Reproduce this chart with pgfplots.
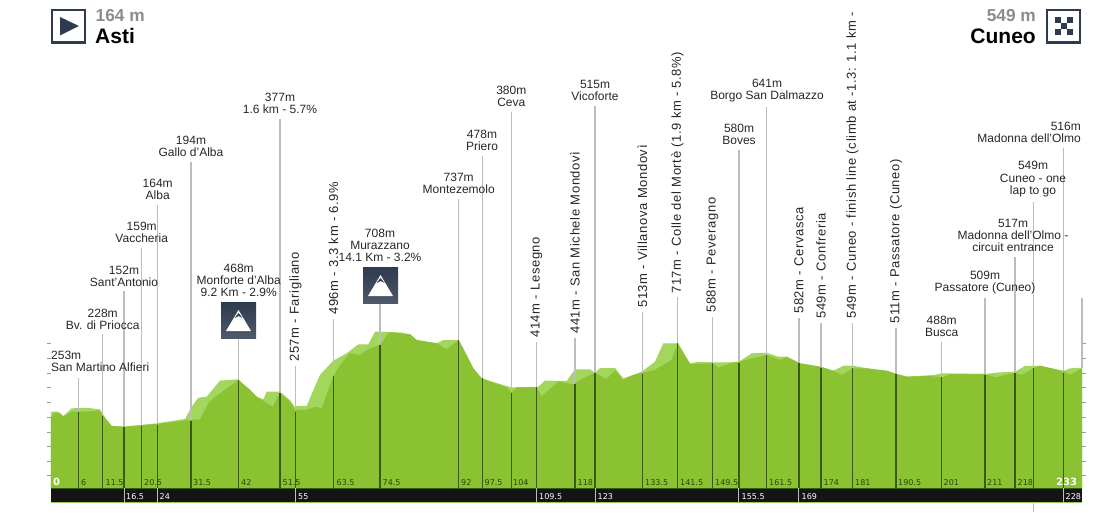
\documentclass[border=0pt]{standalone}
\usepackage{pgfplots}
\pgfplotsset{compat=1.18}
\usepackage{pgfplotstable}
\usepackage{fontspec}
\setmainfont{Liberation Sans}
\newfontfamily\kmfont{DejaVu Sans}
\newfontfamily\rotfont[LetterSpace=4.8]{Liberation Sans}
\definecolor{lgreen}{HTML}{A3D65C}
\definecolor{dgreen}{HTML}{8BC232}
\definecolor{stemgray}{HTML}{BDBDBD}
\definecolor{stemdark}{HTML}{3A5A14}
\definecolor{kmgreen}{HTML}{234A06}
\definecolor{navy}{HTML}{2E3B4E}
\definecolor{labtext}{HTML}{262626}
\pgfplotstableread{
km m
0 254
1.66 254
2.79 225
4.67 277
8.06 281
11.07 270
11.83 232
13.71 157
16.5 153
23.88 175
30.28 205
31.79 288
33.3 349
35.18 356
38.19 465
42.33 474
44.22 419
46.48 356
47.99 338
48.74 390
51.75 390
54.0 333
55.14 284
55.5 293
57.78 293
59.29 401
60.79 503
63.8 600
66.82 650
69.46 711
71.71 711
73.22 797
78.87 792
81.13 779
82.64 740
87.16 718
88.66 740
92.13 740
93.18 684
95.44 548
97.33 480
102.98 428
104.1 419
110.13 424
111.64 465
116.53 462
118.42 541
121.81 541
122.94 519
124.07 550
127.46 550
129.34 480
133.48 525
136.5 593
138.38 718
141.77 718
144.41 582
146.29 593
149.53 589
153.45 589
155.48 593
158.35 650
161.74 654
164.37 627
166.25 627
169.27 582
173.94 559
176.8 532
179.06 566
181.32 566
183.58 553
188.85 532
191.11 510
193.37 492
199.4 503
201.28 514
211.08 510
214.47 521
217.86 525
220.12 564
223.51 566
228.78 530
230.29 548
233 553
}\lightprofile
\pgfplotstableread{
km m
0 216
0.9 248
2.03 243
2.79 220
4.67 254
8.06 254
11.07 261
11.83 225
13.71 157
16.5 153
23.88 171
31.4 198
33.67 202
35.56 311
36.69 345
42.33 469
44.6 413
46.48 356
50.1 288
51.75 379
54.0 322
55.14 266
57.78 266
59.66 288
61.17 277
63.8 496
65.31 571
67.57 650
69.83 639
72.09 684
74.35 706
76.23 785
76.76 792
78.87 785
81.13 779
82.64 740
87.16 718
89.42 677
92.13 740
95.44 548
97.33 480
102.98 419
104.1 383
105.23 419
109.75 419
110.88 356
113.14 419
114.65 458
118.04 440
120.3 480
122.94 519
125.57 474
127.46 537
129.34 469
131.6 503
136.5 537
140.26 605
141.62 713
144.41 578
149.53 582
150.81 553
153.45 582
155.48 593
161.74 639
164.75 605
166.25 627
169.27 582
173.94 559
176.8 532
178.69 503
181.32 548
183.58 548
188.85 532
191.11 510
193.37 492
198.65 496
201.65 487
203.17 510
211.08 510
213.34 487
217.86 519
219.37 503
222 548
223.51 566
228.78 530
230.29 503
233 548
}\darkprofile
\newcommand{\AllStakes}[1]{%
#1{6.17}{485}{254}#1{11.68}{781}{225}#1{16.5}{1072}{153}#1{20.49}{1364}{157}%
#1{24.1}{1656}{164}#1{31.64}{1947}{193}#1{42.41}{761}{469}#1{51.75}{2239}{379}%
#1{55.29}{564}{254}#1{63.88}{883}{496}#1{74.35}{998}{706}#1{92.13}{1696}{740}%
#1{97.47}{1988}{480}#1{104.03}{2286}{383}#1{109.75}{727}{419}#1{118.42}{754}{440}%
#1{122.94}{2327}{519}#1{133.71}{930}{510}#1{141.62}{1032}{718}#1{149.53}{896}{582}%
#1{155.48}{2028}{582}#1{161.74}{2320}{639}#1{169.04}{889}{582}#1{174.01}{856}{548}%
#1{181.17}{856}{548}#1{190.96}{822}{510}#1{201.28}{727}{487}#1{211.08}{1025}{503}%
#1{217.86}{1303}{519}#1{222}{1676}{548}#1{228.78}{2042}{519}}
\newcommand{\grayS}[3]{\addplot[stemgray,line width=1.3pt] coordinates {(#1,#2)(#1,-263)};}
\newcommand{\darkS}[3]{\addplot[stemdark,line width=1.2pt] coordinates {(#1,#3)(#1,-263)};}
\newcommand{\barS}[1]{\addplot[stemgray,line width=1pt] coordinates {(#1,-263)(#1,-358)};}
% pixel helpers
\newcommand{\pxy}[2]{({(#1)*1pt},{512pt-(#2)*1pt})}
\newcommand{\lab}[3]{\node[anchor=south,align=center,inner sep=0pt,text=labtext,font=\fontsize{12}{12.3}\selectfont] at \pxy{#1}{#2-1} {#3};}
\newcommand{\rot}[3]{\node[anchor=west,rotate=90,inner sep=0pt,text=labtext,font=\rotfont\fontsize{13}{13}\selectfont] at \pxy{#1}{#2} {#3};}
\newcommand{\kmup}[2]{\node[anchor=west,inner sep=0pt,font=\kmfont\fontsize{8}{8}\selectfont,text=kmgreen] at \pxy{#1}{483} {#2};}
\newcommand{\kmlo}[2]{\node[anchor=west,inner sep=0pt,font=\kmfont\fontsize{8}{8}\selectfont,text=white] at \pxy{#1}{497} {#2};}
\newcommand{\mountain}[2]{%
\shade[top color=navy,bottom color=navy!85!white] \pxy{#1}{#2} rectangle \pxy{#1+35}{#2+36};
\fill[white] \pxy{#1+5}{#2+29} -- \pxy{#1+17.5}{#2+8} -- \pxy{#1+30}{#2+29} -- cycle;
\fill[navy] \pxy{#1+13.5}{#2+16} -- \pxy{#1+17.5}{#2+11} -- \pxy{#1+21.5}{#2+16} -- \pxy{#1+17.5}{#2+14} -- cycle;}
\begin{document}
\begin{tikzpicture}[x=1pt,y=1pt]
\useasboundingbox (0,0) rectangle (1107pt,512pt);
\begin{axis}[at={(0pt,0pt)},anchor=south west,scale only axis,width=1107pt,height=512pt,
  xmin=-11.525,xmax=238.65,ymin=-425.86,ymax=3045.5,hide axis,clip=true]
% elevation ticks at both sides
\pgfplotsinvokeforeach{718,618,518,418,318,218,118,18,-82,-180}{
  \addplot[gray!80,line width=.5pt] coordinates {(-0.8,#1)(0,#1)};
  \addplot[gray!80,line width=.5pt] coordinates {(233,#1)(233.8,#1)};
}
\addplot[fill=lgreen,draw=none] table[x=km,y=m] {\lightprofile} |- (axis cs:0,-263) -- cycle;
\AllStakes{\grayS}
\addplot[stemgray,line width=1.3pt] coordinates {(233,1025)(233,553)};
\addplot[fill=dgreen,draw=none] table[x=km,y=m] {\darkprofile} |- (axis cs:0,-263) -- cycle;
\AllStakes{\darkS}
% black distance bar
\addplot[fill=black!92,draw=none] coordinates {(0,-263)(233,-263)(233,-358)(0,-358)} -- cycle;
\addplot[stemdark,line width=.8pt] coordinates {(0,-263)(233,-263)};
\addplot[lgreen!80!gray,line width=.8pt] coordinates {(0,-358)(233,-358)};
\barS{16.5}\barS{24.1}\barS{55.29}\barS{109.75}\barS{122.94}\barS{155.48}\barS{169.04}\barS{228.78}
\addplot[stemgray,line width=1.3pt] coordinates {(222,-358)(222,-425)};
\end{axis}
% headers
\draw[navy,line width=2.2pt] \pxy{52.2}{10} rectangle \pxy{85}{42.5};
\fill[navy] \pxy{60}{17} -- \pxy{79}{26} -- \pxy{60}{35.5} -- cycle;
\node[anchor=west,inner sep=0,text=gray!90,font=\bfseries\fontsize{17.3}{17.3}\selectfont] at \pxy{95.5}{16} {164 m};
\node[anchor=west,inner sep=0,font=\bfseries\fontsize{21}{21}\selectfont] at \pxy{95}{36} {Asti};
\draw[navy,line width=2.2pt] \pxy{1047}{10} rectangle \pxy{1080}{42.5};
\node[anchor=east,inner sep=0,text=gray!90,font=\bfseries\fontsize{17.3}{17.3}\selectfont] at \pxy{1036}{16} {549 m};
\node[anchor=east,inner sep=0,font=\bfseries\fontsize{21}{21}\selectfont] at \pxy{1036}{36} {Cuneo};
\foreach \a/\b in {0/0,2/0,1/1,0/2,2/2}{
  \fill[navy] \pxy{1055+6*\a}{17+6*\b} rectangle \pxy{1061+6*\a}{23+6*\b};}
\mountain{221}{302}
\mountain{363}{267}
% horizontal labels
\node[anchor=south west,align=left,inner sep=0pt,text=labtext,font=\fontsize{12}{12.3}\selectfont] at \pxy{51}{372} {253m\\San Martino Alfieri};
\lab{102.7}{331}{228m\\Bv. di Priocca}
\lab{124}{288}{152m\\Sant'Antonio}
\lab{141.7}{244}{159m\\Vaccheria}
\lab{157.7}{201}{164m\\Alba}
\lab{191}{158}{194m\\Gallo d'Alba}
\lab{238.7}{298}{468m\\Monforte d'Alba\\9.2 Km - 2.9\%}
\lab{280}{115}{377m\\1.6 km - 5.7\%}
\lab{380}{263}{708m\\Murazzano\\14.1 Km - 3.2\%}
\lab{458.7}{195}{737m\\Montezemolo}
\lab{482}{152}{478m\\Priero}
\lab{511.3}{108}{380m\\Ceva}
\lab{595}{102}{515m\\Vicoforte}
\lab{739}{146}{580m\\Boves}
\lab{767}{103}{641m\\Borgo San Dalmazzo}
\lab{941.7}{338}{488m\\Busca}
\lab{985}{295}{509m\\Passatore (Cuneo)}
\lab{1013}{253}{517m\\Madonna dell'Olmo -\\circuit entrance}
\lab{1033}{198}{549m\\Cuneo - one\\lap to go}
\node[anchor=south east,align=right,inner sep=0pt,text=labtext,font=\fontsize{12}{12.3}\selectfont] at \pxy{1081}{143} {516m\\Madonna dell'Olmo};
% rotated labels
\rot{295.5}{362}{257m - Farigliano}
\rot{333.5}{315}{496m - 3.3 km - 6.9\%}
\rot{536.5}{338}{414m - Lesegno}
\rot{575}{334}{441m - San Michele Mondovì}
\rot{642.5}{308}{513m - Villanova Mondovì}
\rot{677.5}{294}{717m - Colle del Mortè (1.9 km - 5.8\%)}
\rot{712.5}{313}{588m - Peveragno}
\rot{799}{314}{582m - Cervasca}
\rot{821}{319}{549m - Confreria}
\rot{852.5}{319}{549m - Cuneo - finish line (climb at -1.3: 1.1 km -}
\rot{896}{324}{511m - Passatore (Cuneo)}
% km labels, upper row
\node[anchor=west,inner sep=0,text=white,font=\bfseries\kmfont\fontsize{10}{10}\selectfont] at \pxy{53}{482} {0};
\kmup{81}{6}\kmup{105.5}{11.5}\kmup{144}{20.5}\kmup{193}{31.5}\kmup{241}{42}\kmup{282.5}{51.5}
\kmup{336.5}{63.5}\kmup{382.5}{74.5}\kmup{461}{92}\kmup{484.5}{97.5}\kmup{513}{104}
\kmup{577.5}{118}\kmup{645}{133.5}\kmup{680}{141.5}\kmup{715}{149.5}\kmup{769}{161.5}
\kmup{823.5}{174}\kmup{855}{181}\kmup{898}{190.5}\kmup{943.5}{201}\kmup{987}{211}\kmup{1017.5}{218}
\node[anchor=west,inner sep=0,text=white,font=\bfseries\kmfont\fontsize{10}{10}\selectfont] at \pxy{1056}{482} {233};
% km labels, lower row
\kmlo{126}{16.5}\kmlo{159.5}{24}\kmlo{298}{55}\kmlo{539}{109.5}\kmlo{597.5}{123}\kmlo{741.5}{155.5}\kmlo{801.5}{169}\kmlo{1065.5}{228}
\end{tikzpicture}
\end{document}
